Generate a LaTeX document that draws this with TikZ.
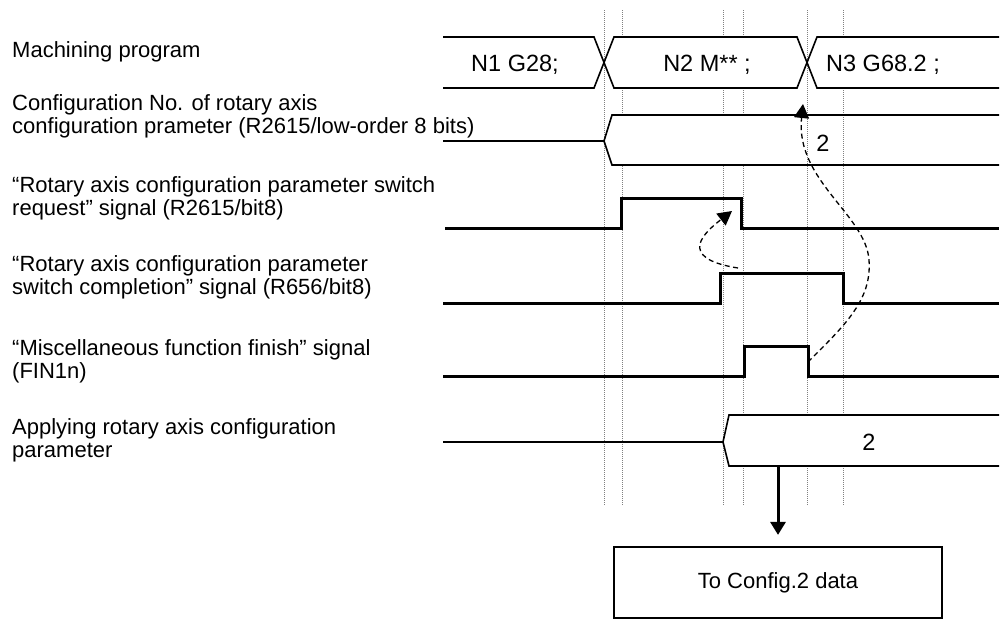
\documentclass[tikz,border=0pt]{standalone}
\usepackage{fontspec}
\setmainfont{Liberation Sans}
\usetikzlibrary{arrows.meta}
\begin{document}
\begin{tikzpicture}[x=1pt,y=-1pt,
  lbl/.style={anchor=base west,inner sep=0pt,font=\fontsize{22}{23}\selectfont},
  txt/.style={anchor=base,inner sep=0pt,font=\fontsize{23.5}{25}\selectfont},
  bus/.style={line width=1.6pt,line join=miter},
  sig/.style={line width=3pt,line join=miter},
  guide/.style={gray,line width=0.7pt,dash pattern=on 1pt off 1pt},
  dasharrow/.style={line width=1.3pt,dash pattern=on 5pt off 3.5pt,-{Triangle[width=15pt,length=14pt]}},
  databox/.style={draw,line width=2.2pt,minimum width=328pt,minimum height=71pt,inner sep=0pt,font=\fontsize{22}{23}\selectfont},
]
\useasboundingbox (0,0) rectangle (1001,630);

% guide lines
\foreach \x in {604,622,723,743,807,843} \draw[guide] (\x,10) -- (\x,505);

% labels
\node[lbl] (l1) at (12,57) {Machining program};
\node[lbl] (l2a) at (12,110) {Configuration No. of rotary axis};
\node[lbl] (l2b) at (12,133) {configuration prameter (R2615/low-order 8 bits)};
\node[lbl] (l3a) at (12,192) {“Rotary axis configuration parameter switch};
\node[lbl] (l3b) at (12,215) {request” signal (R2615/bit8)};
\node[lbl] (l4a) at (12,271) {“Rotary axis configuration parameter};
\node[lbl] (l4b) at (12,294) {switch completion” signal (R656/bit8)};
\node[lbl] (l5a) at (12,355) {“Miscellaneous function finish” signal};
\node[lbl] (l5b) at (12,378) {(FIN1n)};
\node[lbl] (l6a) at (12,434) {Applying rotary axis configuration};
\node[lbl] (l6b) at (12,457) {parameter};

% row 1: machining program bus
\fill[white] (443,37) -- (594,37) -- (604,62.5) -- (594,88) -- (443,88) -- cycle;
\fill[white] (604,62.5) -- (614,37) -- (797,37) -- (807,62.5) -- (797,88) -- (614,88) -- cycle;
\fill[white] (807,62.5) -- (817,37) -- (999,37) -- (999,88) -- (817,88) -- cycle;
\draw[bus] (443,37) -- (594,37) -- (614,88) -- (797,88) -- (817,37) -- (999,37);
\draw[bus] (443,88) -- (594,88) -- (614,37) -- (797,37) -- (817,88) -- (999,88);
\node[txt] (n1) at (515,71) {N1 G28;};
\node[txt] (n2) at (707,71) {N2 M** ;};
\node[txt] (n3) at (883,71) {N3 G68.2 ;};

% row 2: configuration No. bus
\fill[white] (604,141) -- (612,115) -- (999,115) -- (999,165) -- (612,165) -- cycle;
\draw[guide] (807,115) -- (807,165);
\draw[guide] (843,115) -- (843,165);
\draw[bus] (443,141) -- (604,141) -- (612,115) -- (999,115);
\draw[bus] (604,141) -- (612,165) -- (999,165);
\node[txt] (cfg) at (823,151) {2};

% rows 3-5: signals
\draw[sig] (445,228) -- (621,228) -- (621,198) -- (741,198) -- (741,228) -- (999,228);
\draw[sig] (443,303) -- (720,303) -- (720,273) -- (843,273) -- (843,303) -- (999,303);
\draw[sig] (443,376) -- (744,376) -- (744,346) -- (808,346) -- (808,376) -- (999,376);

% row 6: applying bus
\fill[white] (723,442) -- (729,415) -- (999,415) -- (999,466) -- (729,466) -- cycle;
\draw[bus] (443,442) -- (723,442) -- (729,415) -- (999,415);
\draw[bus] (723,442) -- (729,466) -- (999,466);
\node[txt] (app) at (869,450) {2};

% box and arrow
\node[databox] (box) at (778,582.5) {To Config.2 data};
\coordinate (appout) at (778,466);
\draw[line width=3pt,-{Triangle[width=15pt,length=13pt]},shorten >=11pt] (appout) -- (box.north);

% dashed arrows
\coordinate (finfall) at (808,362);
\coordinate (n23) at (803,104);
\draw[dasharrow] (finfall) .. controls (845,325) and (872,300) .. (869,260) .. controls (866,215) and (795,180) .. (n23);
\coordinate (cmprise) at (738,268);
\coordinate (reqfall) at (732,211);
\draw[dasharrow] (cmprise) .. controls (675,258) and (705,232) .. (reqfall);
\end{tikzpicture}
\end{document}
